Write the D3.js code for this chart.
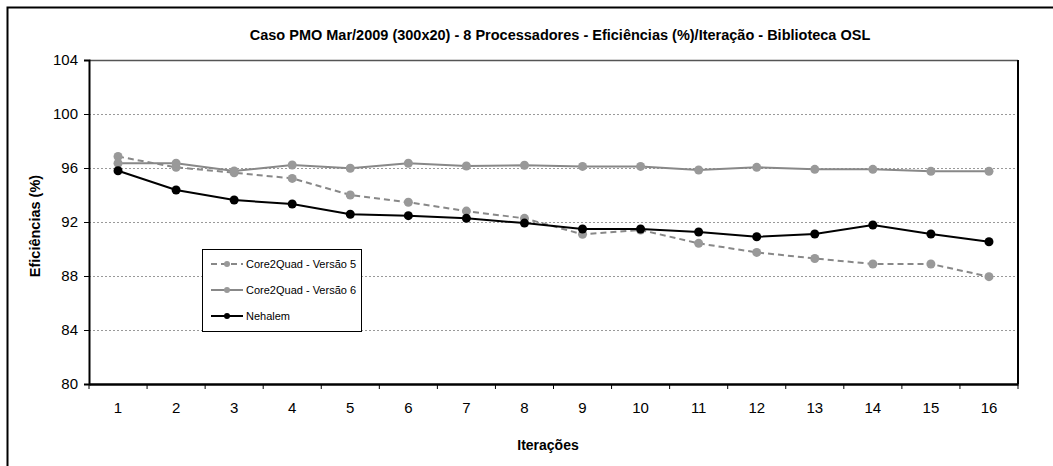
<!DOCTYPE html>
<html><head><meta charset="utf-8">
<script src="https://cdn.jsdelivr.net/npm/d3@7"></script>
<style>body{margin:0;background:#fff}svg{display:block;font-family:"Liberation Sans",Arial,sans-serif}</style>
</head><body><svg id="c" width="1053" height="466"></svg>
<script>
const iterations = [1,2,3,4,5,6,7,8,9,10,11,12,13,14,15,16];
const core2quadV5 = [96.85,96.05,95.65,95.23,94.0,93.46,92.81,92.27,91.09,91.41,90.42,89.75,89.3,88.89,88.89,87.95];
const core2quadV6 = [96.35,96.35,95.78,96.22,95.98,96.35,96.15,96.2,96.12,96.12,95.85,96.05,95.9,95.9,95.76,95.76];
const nehalem = [95.8,94.37,93.63,93.33,92.57,92.47,92.27,91.92,91.48,91.48,91.26,90.91,91.11,91.78,91.11,90.54];
const yTicks = [80,84,88,92,96,100,104];
const seriesNames = ["Core2Quad - Versão 5","Core2Quad - Versão 6","Nehalem"];
const title = "Caso PMO Mar/2009 (300x20) - 8 Processadores - Eficiências (%)/Iteração - Biblioteca OSL";

const svg = d3.select("#c");
const L=89, R=1018, T=60, B=384;
const FF = "Liberation Sans, Arial, sans-serif";
// outer frame
svg.append("path").attr("d","M7.5,466 V7.5 H1053").attr("fill","none").attr("stroke","#000").attr("stroke-width",2);

const x = d3.scaleBand().domain(iterations).range([L,R]).padding(0);
const y = d3.scaleLinear().domain([80,104]).range([B,T]);

// gridlines
svg.append("g").selectAll("line").data(yTicks.filter(t=>t>80&&t<104)).join("line")
 .attr("x1",L).attr("x2",R).attr("y1",d=>y(d)+0.5).attr("y2",d=>y(d)+0.5)
 .attr("stroke","#999").attr("stroke-dasharray","2,2").attr("stroke-width",1);

// plot border
svg.append("line").attr("x1",L).attr("x2",R).attr("y1",T+0.5).attr("y2",T+0.5).attr("stroke","#555").attr("stroke-width",1.5);
svg.append("line").attr("x1",R).attr("x2",R).attr("y1",T).attr("y2",B).attr("stroke","#000").attr("stroke-width",2);

// y axis
const ya = svg.append("g").attr("transform",`translate(${L},0)`)
 .call(d3.axisLeft(y).tickValues(yTicks).tickSize(5).tickPadding(6));
ya.select(".domain").attr("stroke","#000").attr("stroke-width",2);
ya.selectAll(".tick line").attr("stroke","#000");
ya.selectAll("text").attr("font-size",15).attr("font-family",FF).attr("fill","#000");

// x axis
const xa = svg.append("g").attr("transform",`translate(0,${B})`)
 .call(d3.axisBottom(x).tickSize(0).tickPadding(18));
xa.select(".domain").attr("stroke","#000").attr("stroke-width",2.5);
xa.selectAll("text").attr("font-size",15).attr("font-family",FF).attr("fill","#000");
// boundary ticks
svg.append("g").selectAll("line").data(d3.range(iterations.length+1)).join("line")
 .attr("x1",i=>L+i*x.bandwidth()).attr("x2",i=>L+i*x.bandwidth())
 .attr("y1",B).attr("y2",B+5).attr("stroke","#000").attr("stroke-width",1);

const cx = d=>x(d)+x.bandwidth()/2;
const series = [
 {name:seriesNames[0], vals:core2quadV5, line:"#888", mark:"#999", dash:"6,4"},
 {name:seriesNames[1], vals:core2quadV6, line:"#888", mark:"#999", dash:null},
 {name:seriesNames[2], vals:nehalem, line:"#000", mark:"#000", dash:null}
];
const lineGen = d3.line().x((d,i)=>cx(iterations[i])).y(d=>y(d));
series.forEach(s=>{
 svg.append("path").attr("d",lineGen(s.vals)).attr("fill","none").attr("stroke",s.line)
  .attr("stroke-width",2).attr("stroke-dasharray",s.dash);
 svg.append("g").selectAll("circle").data(s.vals).join("circle")
  .attr("cx",(d,i)=>cx(iterations[i])).attr("cy",d=>y(d)).attr("r",4.5).attr("fill",s.mark);
});

// title and axis titles
svg.append("text").attr("x",560).attr("y",40).attr("text-anchor","middle")
 .attr("font-size",14.5).attr("font-weight","bold").text(title);
svg.append("text").attr("x",548).attr("y",450).attr("text-anchor","middle")
 .attr("font-size",14).attr("font-weight","bold").text("Iterações");
svg.append("text").attr("transform","translate(40,226) rotate(-90)").attr("text-anchor","middle")
 .attr("font-size",14.5).attr("font-weight","bold").text("Eficiências (%)");

// legend
const lg = svg.append("g");
lg.append("rect").attr("x",202.5).attr("y",249.5).attr("width",159).attr("height",82)
 .attr("fill","#fff").attr("stroke","#000").attr("stroke-width",1);
const ly = [264,290,316];
series.forEach((s,i)=>{
 lg.append("line").attr("x1",211).attr("x2",243).attr("y1",ly[i]).attr("y2",ly[i])
  .attr("stroke",s.line).attr("stroke-width",2).attr("stroke-dasharray",s.dash);
 lg.append("circle").attr("cx",227).attr("cy",ly[i]).attr("r",3).attr("fill",s.mark);
 lg.append("text").attr("x",246).attr("y",ly[i]+4).attr("font-size",11).text(s.name);
});
</script></body></html>
